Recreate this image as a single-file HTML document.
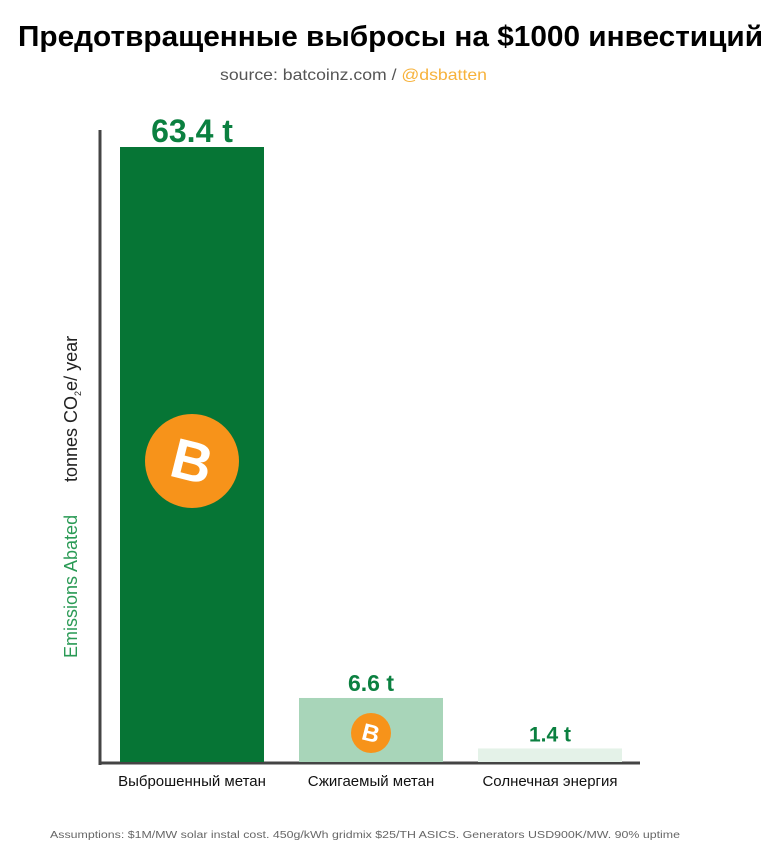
<!DOCTYPE html>
<html><head><meta charset="utf-8"><style>
body{margin:0;width:781px;height:855px;background:#fff;overflow:hidden;font-family:"Liberation Sans","DejaVu Sans",sans-serif}
svg{position:absolute;left:0;top:0}
</style></head><body>
<svg id="c" width="781" height="855">
<text x="18" y="46" textLength="745" lengthAdjust="spacingAndGlyphs" font-size="29" font-weight="bold" fill="#000">Предотвращенные выбросы на $1000 инвестиций</text>
<text x="220" y="80" textLength="267" lengthAdjust="spacingAndGlyphs" font-size="16"><tspan fill="#555">source: batcoinz.com / </tspan><tspan fill="#f7b23b">@dsbatten</tspan></text>
<line x1="100" y1="130" x2="100" y2="765" stroke="#444" stroke-width="3"/>
<line x1="100" y1="763" x2="640" y2="763" stroke="#444" stroke-width="3"/>
<text transform="translate(77,658) rotate(-90)" font-size="18" fill="#2a9a55">Emissions Abated</text>
<text transform="translate(77,482) rotate(-90)" font-size="18" fill="#222">tonnes CO<tspan font-size="9" dy="4">2</tspan><tspan dy="-4">e/ year</tspan></text>
<text x="50" y="838" textLength="630" lengthAdjust="spacingAndGlyphs" font-size="10" fill="#666">Assumptions: $1M/MW solar instal cost. 450g/kWh gridmix $25/TH ASICS. Generators USD900K/MW. 90% uptime</text>
</svg>
<script>
const categories=["Выброшенный метан","Сжигаемый метан","Солнечная энергия"];
const values=[63.4,6.6,1.4];
const valueLabels=["63.4 t","6.6 t","1.4 t"];
const svg=document.getElementById('c');
const NS="http://www.w3.org/2000/svg";
const baseY=762,pxPer=615/63.4;
const yScale=v=>baseY-v*pxPer;
const xBand=i=>120+i*179;
const bw=144;
const fills=["#067535","#a8d5b9","#e4f2e8"];
const icons=[{r:47},{r:20},null];
function mk(t,a){const e=document.createElementNS(NS,t);for(const k in a)e.setAttribute(k,a[k]);svg.appendChild(e);return e;}
values.forEach((v,i)=>{
  const x=xBand(i),y=yScale(v);
  const r=mk('rect',{x:x,y:y,width:bw,height:baseY-y,fill:fills[i]});
  
  
  const t=mk('text',{x:x+bw/2,y:y-(i==0?5:7),'text-anchor':'middle','font-size':i==0?32:i==1?23:21,'font-weight':'bold',fill:'#0b8040'});
  t.textContent=valueLabels[i];
  
  
  const c=mk('text',{x:x+bw/2,y:786,'text-anchor':'middle','font-size':15,fill:'#111'});
  c.textContent=categories[i];
  
  
  if(icons[i]){
    const rr=icons[i].r,cx=x+bw/2,cy=i==0?461:733;
    const ci=mk('circle',{cx:cx,cy:cy,r:rr,fill:'#f7931a'});
    
    
    const b=mk('text',{x:cx,y:cy+rr*0.42,'text-anchor':'middle','font-size':rr*1.2,'font-weight':'bold',fill:'#fff',transform:`rotate(14 ${cx} ${cy})`});
    b.textContent='B';
    
    
  }
});
</script>
</body></html>
